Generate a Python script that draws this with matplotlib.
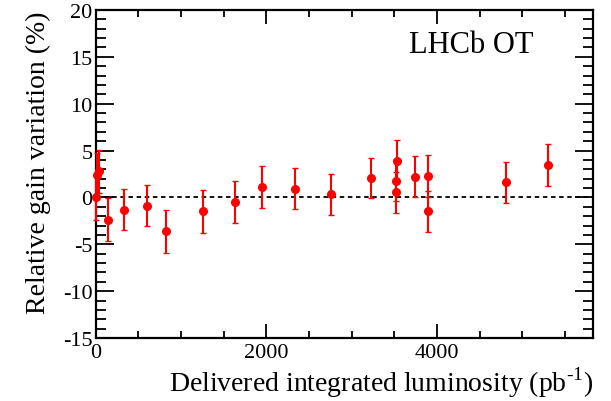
import matplotlib.pyplot as plt
from matplotlib.ticker import MultipleLocator

# gain variation vs delivered luminosity
lumi = [0, 20, 45, 150, 338, 600, 826, 1263, 1638, 1951, 2337, 2763,
        3228, 3521, 3521, 3532, 3740, 3899, 3899, 4813, 5302]
gain = [0.0, 2.4, 2.8, -2.4, -1.3, -0.9, -3.6, -1.5, -0.45, 1.15, 0.95, 0.35,
        2.05, 0.55, 1.8, 3.9, 2.2, 2.3, -1.5, 1.6, 3.45]
gain_err = [2.4, 2.3, 2.3, 2.3, 2.2, 2.2, 2.3, 2.25, 2.25, 2.25, 2.2, 2.2,
            2.15, 2.2, 2.2, 2.25, 2.2, 2.25, 2.2, 2.15, 2.2]

plt.rcParams['font.family'] = ['Liberation Serif', 'DejaVu Serif']
plt.rcParams['axes.unicode_minus'] = False
plt.rcParams['mathtext.fontset'] = 'custom'
plt.rcParams['mathtext.rm'] = 'Liberation Serif'

fig = plt.figure(figsize=(6.11, 4.02), dpi=100)
ax = fig.add_axes([95.5 / 611, 1 - 339 / 402, (593 - 95.5) / 611, (339 - 11) / 402])

ax.axhline(0, color='black', linestyle=(0, (2.5, 2)), linewidth=1.3, zorder=1)
ax.errorbar(lumi, gain, yerr=gain_err, fmt='o', color='red', markersize=5.5,
            elinewidth=1.5, capsize=2, capthick=1, zorder=3, clip_on=False)

ax.set_xlim(0, 5830)
ax.set_ylim(-15, 20)
ax.xaxis.set_major_locator(MultipleLocator(2000))
ax.xaxis.set_minor_locator(MultipleLocator(500))
ax.yaxis.set_major_locator(MultipleLocator(5))
ax.yaxis.set_minor_locator(MultipleLocator(1))
ax.tick_params(which='both', direction='in', top=True, right=True, width=1.3,
               labelsize=16)
ax.tick_params(which='major', length=13)
ax.tick_params(which='minor', length=7)
ax.tick_params(axis='x', which='minor', length=5)
ax.tick_params(axis='x', which='major', length=10)
ax.tick_params(axis='y', pad=2)
for s in ax.spines.values():
    s.set_linewidth(1.6)

ax.set_xlabel(r'Delivered integrated luminosity (pb$^{\mathrm{\text{-}1}}$)',
              fontsize=20, loc='right', labelpad=2)
ax.set_ylabel('Relative gain variation (%)', fontsize=20, loc='top', labelpad=9)
ax.text(0.756, 0.896, 'LHCb OT', transform=ax.transAxes, fontsize=22,
        ha='center', va='center')

fig.savefig('out.png', dpi=100)
